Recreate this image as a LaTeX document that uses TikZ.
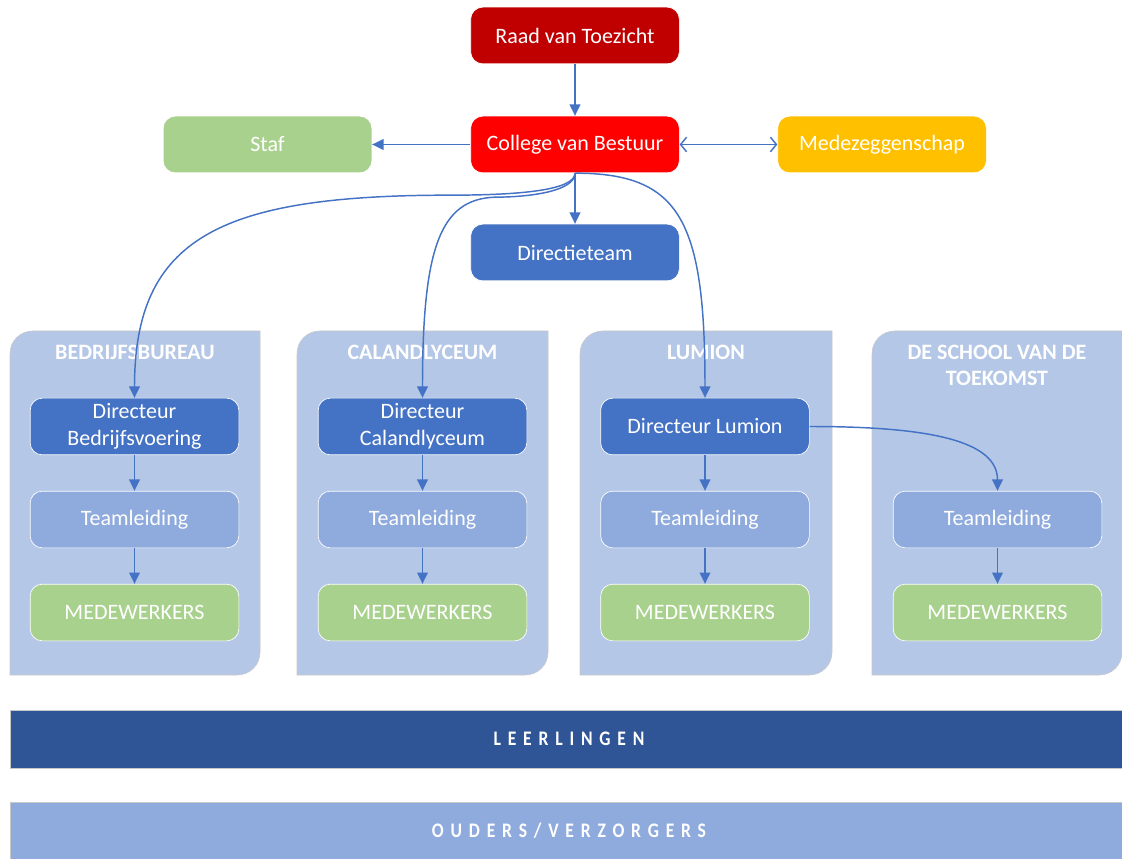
\documentclass[tikz,border=0pt]{standalone}
\usepackage{fontspec}
\setmainfont{Carlito}
\newfontfamily\spacedfont[LetterSpace=33,FakeStretch=0.85]{Carlito}
\usetikzlibrary{arrows.meta}
\definecolor{cRaad}{HTML}{C00000}
\definecolor{cCvb}{HTML}{FF0000}
\definecolor{cGreen}{HTML}{A9D18E}
\definecolor{cGold}{HTML}{FFC000}
\definecolor{cBlue}{HTML}{4472C4}
\definecolor{cTeam}{HTML}{8FAADC}
\definecolor{cPanel}{HTML}{B4C7E7}
\definecolor{cDark}{HTML}{2F5597}
\definecolor{cEdge}{HTML}{C8C8C8}
\tikzset{
  box/.style={rounded corners=9pt, minimum width=156.5pt, minimum height=42.5pt,
    draw=white, line width=0.5pt, text=white, align=center, inner sep=0pt,
    font=\fontsize{16.5}{20.5}\selectfont},
  raad/.style={box, fill=cRaad},
  cvb/.style={box, fill=cCvb},
  green/.style={box, fill=cGreen},
  gold/.style={box, fill=cGold},
  dir/.style={box, fill=cBlue},
  team/.style={box, fill=cTeam},
  paneltitle/.style={text=white, align=center, font=\fontsize{16.5}{20}\selectfont\bfseries},
  panelfill/.style={fill=cPanel, draw=cEdge, line width=0.4pt},
  bar/.style={draw=cEdge, line width=0.4pt},
  bartext/.style={text=white, font=\spacedfont\bfseries\fontsize{15.5}{18}\selectfont},
  arr/.style={draw=cBlue, line width=1.1pt, -{Triangle[length=8.5pt,width=8pt]}},
  dbl/.style={draw=cBlue, line width=1.1pt, {Straight Barb[length=4.5pt,width=11pt]}-{Straight Barb[length=4.5pt,width=11pt]}},
}
\newcommand\mypanel[4]{% x1,y1,x2,y2
  \path[panelfill] (#1,#4) -- (#1,{(#2+#4)/2}) {[rounded corners=17pt] -- (#1,#2) -- ({(#1+#3)/2},#2)} -- (#3,#2) -- (#3,{(#2+#4)/2}) {[rounded corners=17pt] -- (#3,#4) -- ({(#1+#3)/2},#4)} -- cycle;
}
\begin{document}
\begin{tikzpicture}[x=0.75pt,y=-0.75pt]
\useasboundingbox (0,0) rectangle (1122,859);
% panels
\mypanel{10}{331}{260}{675}
\mypanel{297}{331}{548}{675}
\mypanel{580}{331}{832}{675}
\mypanel{872}{331}{1122}{675}
\node[paneltitle] (t1) at (135,352) {BEDRIJFSBUREAU};
\node[paneltitle] (t2) at (422.5,352) {CALANDLYCEUM};
\node[paneltitle] (t3) at (706,352) {LUMION};
\node[paneltitle] (t4) at (997,365.5) {DE SCHOOL VAN DE\\TOEKOMST};
% bars
\path[bar, fill=cDark] (10,710) rectangle (1122,768);
\path[bar, fill=cTeam] (10,802) rectangle (1122,859);
\node[bartext] (leer) at (569,739) {LEERLINGEN};
\node[bartext] (oud) at (569,831) {OUDERS/VERZORGERS};
% top nodes
\node[raad] (raad) at (575,35.5) {Raad van Toezicht};
\node[cvb] (cvb) at (575,144.5) {College van Bestuur};
\node[green] (staf) at (267.5,144.5) {Staf};
\node[gold] (mz) at (882,144.5) {Medezeggenschap};
\node[dir] (dt) at (575,252.5) {Directieteam};
% column nodes
\node[dir] (d1) at (134.5,426.5) {Directeur\\Bedrijfsvoering};
\node[team] (tl1) at (134.5,519.5) {Teamleiding};
\node[green] (mw1) at (134.5,612.5) {MEDEWERKERS};
\node[dir] (d2) at (422.5,426.5) {Directeur\\Calandlyceum};
\node[team] (tl2) at (422.5,519.5) {Teamleiding};
\node[green] (mw2) at (422.5,612.5) {MEDEWERKERS};
\node[dir] (d3) at (705,426.5) {Directeur Lumion};
\node[team] (tl3) at (705,519.5) {Teamleiding};
\node[green] (mw3) at (705,612.5) {MEDEWERKERS};
\node[team] (tl4) at (997.5,519.5) {Teamleiding};
\node[green] (mw4) at (997.5,612.5) {MEDEWERKERS};
% connectors
\draw[arr] (raad) -- (cvb);
\draw[arr] (cvb) -- (staf);
\draw[dbl] (cvb) -- (mz);
\draw[arr] (cvb) -- (dt);
\draw[arr] (cvb.south) .. controls +(0,17) and +(70,0) .. ++(-125,22) .. controls +(-230,0) and +(0,-160) .. (d1.north);
\draw[arr] (cvb.south) .. controls +(0,18) and +(35,0) .. ++(-80,24) .. controls +(-55,2) and +(0,-150) .. (d2.north);
\draw[arr] (cvb.south) .. controls +(105,0) and +(0,-178) .. (d3.north);
\draw[arr] (d3.east) .. controls +(120,0) and +(0,-50) .. (tl4.north);
\draw[arr] (d1) -- (tl1);
\draw[arr] (tl1) -- (mw1);
\draw[arr] (d2) -- (tl2);
\draw[arr] (tl2) -- (mw2);
\draw[arr] (d3) -- (tl3);
\draw[arr] (tl3) -- (mw3);
\draw[arr] (tl4) -- (mw4);
\end{tikzpicture}
\end{document}
